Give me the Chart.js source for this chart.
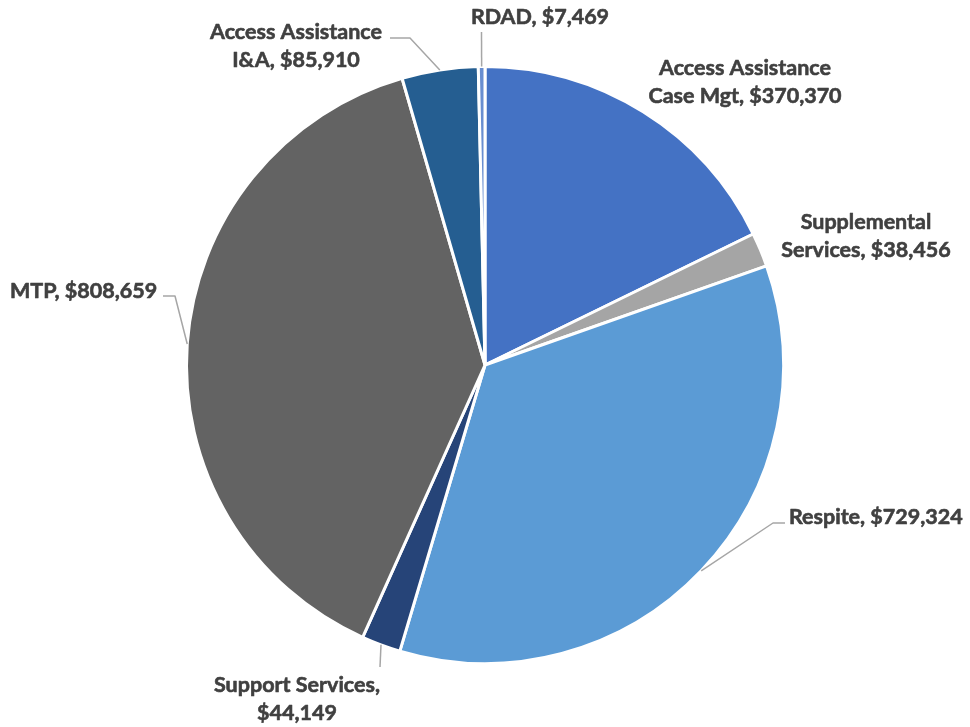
<!DOCTYPE html>
<html>
<head>
<meta charset="utf-8">
<script src="https://cdn.jsdelivr.net/npm/chart.js@4.4.1/dist/chart.umd.min.js"></script>
<style>
  html, body { margin: 0; padding: 0; background: #ffffff; }
  #wrap { width: 970px; height: 727px; position: relative; }
</style>
</head>
<body>
<div id="wrap"><canvas id="pie"></canvas></div>
<script>
// Program funding by service category
const categories = [
  'Access Assistance Case Mgt',
  'Supplemental Services',
  'Respite',
  'Support Services',
  'MTP',
  'Access Assistance I&A',
  'RDAD'
];
const amounts = [370370, 38456, 729324, 44149, 808659, 85910, 7469];
const sliceColors = ['#4472C4', '#A5A5A5', '#5B9BD5', '#264478', '#636363', '#255E91', '#698ED0'];

// Label placement: line centres, word count on the first line, and leader-line bends
const labelLayout = [
  { x: 745, y: 68,  firstLineWords: 2, align: 'center', leader: null },
  { x: 866, y: 222, firstLineWords: 1, align: 'center', leader: null },
  { x: 789, y: 517, firstLineWords: 0, align: 'left',   leader: [[773, 523], [785, 523]] },
  { x: 297, y: 685, firstLineWords: 2, align: 'center', leader: [[380, 667]] },
  { x: 10,  y: 291, firstLineWords: 0, align: 'left',   leader: [[175, 296], [163, 296]] },
  { x: 296, y: 32,  firstLineWords: 2, align: 'center', leader: [[410, 38], [390, 38]] },
  { x: 540, y: 17,  firstLineWords: 0, align: 'center', leader: [[481.5, 32]] }
];

const LINE_GAP = 28;
const FONT = 'bold 21.5px Lato, "Open Sans", sans-serif';

function labelLines(i) {
  const text = categories[i] + ', $' + amounts[i].toLocaleString('en-US');
  const n = labelLayout[i].firstLineWords;
  if (!n) return [text];
  const words = text.split(' ');
  return [words.slice(0, n).join(' '), words.slice(n).join(' ')];
}

const calloutPlugin = {
  id: 'callouts',
  afterDatasetsDraw(chart) {
    const ctx = chart.ctx;
    const meta = chart.getDatasetMeta(0);
    ctx.save();
    meta.data.forEach((arc, i) => {
      const lay = labelLayout[i];
      if (lay.leader) {
        const mid = (arc.startAngle + arc.endAngle) / 2;
        const sx = arc.x + Math.cos(mid) * arc.outerRadius;
        const sy = arc.y + Math.sin(mid) * arc.outerRadius;
        ctx.beginPath();
        ctx.moveTo(sx, sy);
        lay.leader.forEach(p => ctx.lineTo(p[0], p[1]));
        ctx.strokeStyle = '#A6A6A6';
        ctx.lineWidth = 1.5;
        ctx.stroke();
      }
      ctx.font = FONT;
      ctx.fillStyle = '#404040';
      ctx.strokeStyle = '#404040';
      ctx.lineWidth = 0.6;
      ctx.lineJoin = 'round';
      ctx.textAlign = lay.align;
      ctx.textBaseline = 'middle';
      labelLines(i).forEach((line, k) => {
        ctx.fillText(line, lay.x, lay.y + k * LINE_GAP);
        ctx.strokeText(line, lay.x, lay.y + k * LINE_GAP);
      });
    });
    ctx.restore();
  }
};

new Chart(document.getElementById('pie'), {
  type: 'pie',
  data: {
    labels: categories,
    datasets: [{
      data: amounts,
      backgroundColor: sliceColors,
      borderColor: '#ffffff',
      borderWidth: 3
    }]
  },
  options: {
    responsive: true,
    maintainAspectRatio: false,
    animation: false,
    layout: { padding: { left: 185, right: 185, top: 65, bottom: 62 } },
    plugins: {
      legend: { display: false },
      tooltip: { enabled: false }
    }
  },
  plugins: [calloutPlugin]
});
</script>
</body>
</html>
